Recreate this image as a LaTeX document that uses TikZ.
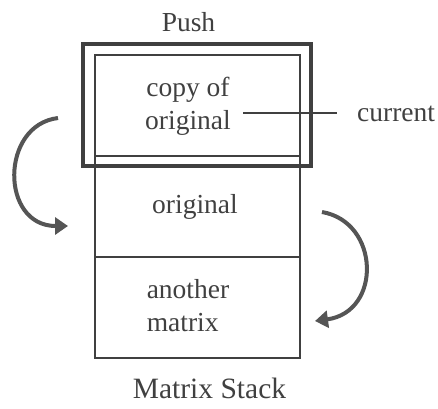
\documentclass[tikz,border=0pt]{standalone}
\usepackage{fontspec}
\setmainfont{Liberation Serif}
\usetikzlibrary{arrows.meta,positioning}
\definecolor{ink}{HTML}{404040}
\definecolor{arrowgray}{HTML}{555555}
\begin{document}
\begin{tikzpicture}[x=1pt, y=-1pt, >={Triangle[length=13pt,width=17pt]},
  cell/.style={draw=ink, line width=1.4pt, minimum width=205pt, minimum height=101pt, inner sep=0pt, outer sep=0pt},
  txt/.style={text=ink, font=\fontsize{27.5}{33}\selectfont, inner sep=0pt},
  turn/.style={->, draw=arrowgray, line width=4pt}]
\useasboundingbox (0,0) rectangle (438,408);
% the stack
\node[cell] (copy) at (197.5,105.5) {};
\node[cell, below=0pt of copy] (orig) {};
\node[cell, below=0pt of orig] (another) {};
\draw[ink, line width=4pt] ([shift={(-12,-11)}]copy.north west) rectangle ([shift={(11,10)}]copy.south east);
% texts
\node[txt] (push) at (188.5,22) {Push};
\node[txt, align=center] (copytxt) at (188,106) {copy of\\original};
\node[txt] (origtxt) at (195,207) {original};
\node[txt, align=left] (anothertxt) at (188,306) {another\\matrix};
\node[txt, font=\fontsize{29.5}{35}\selectfont] (stack) at (209.5,388) {Matrix Stack};
\node[txt, anchor=west] (current) at (357,114) {current};
\coordinate (lead) at (243,113);
\draw[ink, line width=1.4pt] (lead) -- ([xshift=-20pt]lead -| current.west);
% arrows
\coordinate (l1) at (58,118);   \coordinate (l2) at (68,226);
\coordinate (r1) at (322,212);  \coordinate (r2) at (315,321);
\draw[turn] (l1) .. controls (0,125) and (0,226) .. (l2);
\draw[turn] (r1) .. controls (380,222) and (382,312) .. (r2);
\end{tikzpicture}
\end{document}
